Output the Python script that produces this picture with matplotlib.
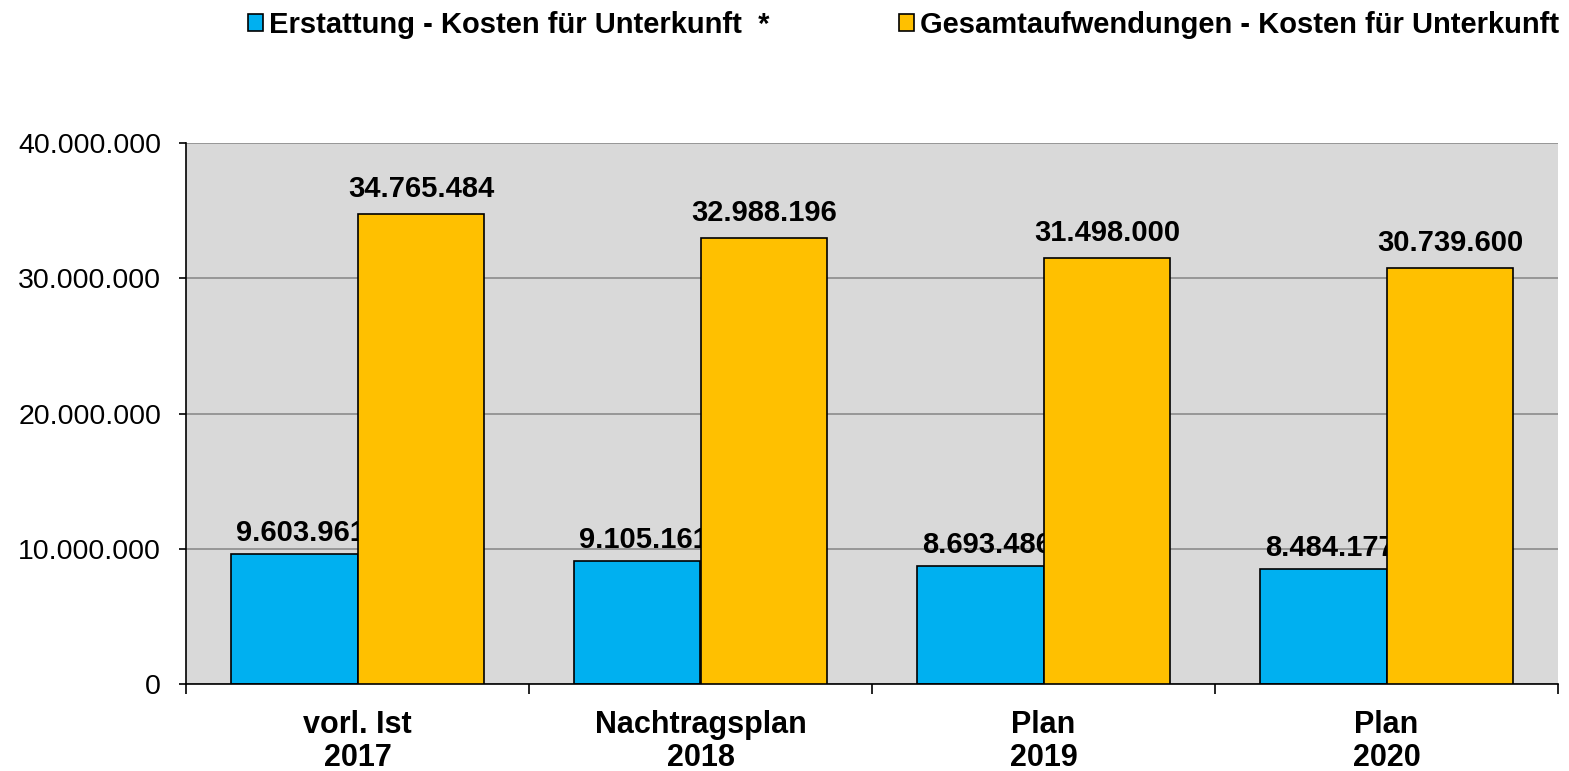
import matplotlib.pyplot as plt
import numpy as np
from matplotlib.ticker import FuncFormatter, FixedLocator

plt.rcParams["font.family"] = ["Liberation Sans", "DejaVu Sans"]

# Kategorien und Werte
kategorien = ["vorl. Ist\n2017", "Nachtragsplan\n2018", "Plan\n2019", "Plan\n2020"]
erstattung = [9603961, 9105161, 8693486, 8484177]
gesamt = [34765484, 32988196, 31498000, 30739600]
legende = ["Erstattung - Kosten für Unterkunft  *",
           "Gesamtaufwendungen - Kosten für Unterkunft"]


def tausender(v, pos=None):
    return f"{v:,.0f}".replace(",", ".")


fig = plt.figure(figsize=(15.69, 7.71), dpi=100)
ax = fig.add_axes([186 / 1569, 1 - 684 / 771, 1372 / 1569, 541 / 771])

x = np.arange(len(kategorien))
w = 0.37
b1 = ax.bar(x - w / 2, erstattung, w, color="#00b0f0", edgecolor="black",
            linewidth=1.2, zorder=2, label=legende[0])
b2 = ax.bar(x + w / 2, gesamt, w, color="#ffc000", edgecolor="black",
            linewidth=1.2, zorder=3, label=legende[1])

for xi, v in zip(x, erstattung):
    ax.annotate(tausender(v), (xi - w / 2, v), xytext=(5, 9.4),
                textcoords="offset points", ha="center", va="baseline",
                fontsize=21, fontweight="bold", zorder=2.5)
for xi, v in zip(x, gesamt):
    ax.annotate(tausender(v), (xi + w / 2, v), xytext=(0, 12.2),
                textcoords="offset points", ha="center", va="baseline",
                fontsize=21, fontweight="bold", zorder=4)

ax.set_facecolor("#d9d9d9")
ax.set_xlim(-0.5, len(kategorien) - 0.5)
ax.set_ylim(0, 40000000)
ax.set_yticks(np.arange(0, 40000001, 10000000))
ax.yaxis.set_major_formatter(FuncFormatter(tausender))
ax.grid(axis="y", color="#8c8c8c", linewidth=1.2, zorder=1)
ax.set_axisbelow(True)

ax.set_xticks(x)
ax.set_xticklabels(kategorien, fontsize=22, fontweight="bold")
for lab in ax.get_xticklabels():
    lab.set_linespacing(1.12)
ax.xaxis.set_minor_locator(FixedLocator(np.arange(-0.5, len(kategorien), 1.0)))
ax.tick_params(axis="x", which="major", length=0, pad=19)
ax.tick_params(axis="x", which="minor", length=7, width=1.2, direction="out")
ax.tick_params(axis="y", length=5, width=1.2, labelsize=20.5, pad=13)

ax.spines["top"].set_visible(False)
ax.spines["right"].set_visible(False)
ax.spines["left"].set_linewidth(1.2)
ax.spines["bottom"].set_linewidth(1.2)

fig.legend(handles=[b1, b2], labels=legende, loc="center left",
           bbox_to_anchor=(248 / 1569, 1 - 25 / 771), ncol=2, frameon=False,
           prop={"size": 21, "weight": "bold"}, handlelength=0.52,
           handleheight=0.52, handletextpad=0.2, columnspacing=4.45,
           borderpad=0, borderaxespad=0)

fig.savefig("out.png", dpi=100)
